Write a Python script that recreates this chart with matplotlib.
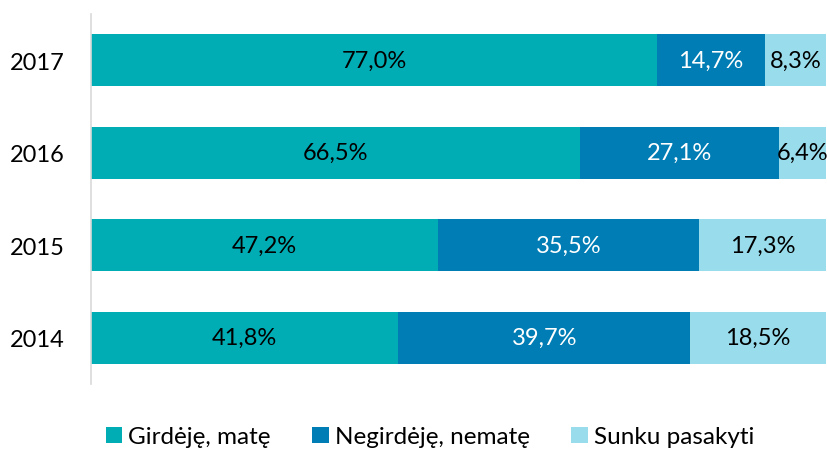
import numpy as np
import matplotlib
matplotlib.use('Agg')
import matplotlib.pyplot as plt

plt.rcParams['font.family'] = ['Lato', 'DejaVu Sans']

years = ['2014', '2015', '2016', '2017']
girdeje = [41.8, 47.2, 66.5, 77.0]
negirdeje = [39.7, 35.5, 27.1, 14.7]
sunku = [18.5, 17.3, 6.4, 8.3]
series = [girdeje, negirdeje, sunku]
names = ['Girdėję, matę', 'Negirdėję, nematę', 'Sunku pasakyti']
colors = ['#00ADB4', '#007DB4', '#99DDEC']
text_colors = ['black', 'white', 'black']

fig = plt.figure(figsize=(8.27, 4.52), dpi=100)
ax = fig.add_axes([0.110, 0.148, 0.889, 0.819])

y = np.arange(len(years))
left = np.zeros(len(years))
handles = []
for vals, name, col, tc in zip(series, names, colors, text_colors):
    vals = np.array(vals)
    b = ax.barh(y, vals, left=left, height=0.56, color=col, label=name)
    handles.append(b)
    for yi, l, v in zip(y, left, vals):
        ax.text(l + v / 2, yi, f'{v:.1f}%'.replace('.', ','), ha='center', va='center',
                color=tc, fontsize=17)
    left += vals

ax.set_xlim(0, 100)
ax.set_ylim(-0.5, 3.5)
ax.set_yticks(y)
ax.set_yticklabels(years, fontsize=17)
ax.set_xticks([])
ax.tick_params(axis='y', length=0, pad=19)
for s in ['top', 'right', 'bottom']:
    ax.spines[s].set_visible(False)
ax.spines['left'].set_color('#D9D9D9')
ax.spines['left'].set_linewidth(1.2)

fig.legend(handles=handles, labels=names, loc='center', bbox_to_anchor=(0.52, 0.031),
           ncol=3, frameon=False, fontsize=17.5, handlelength=0.68, handleheight=0.68,
           handletextpad=0.25, columnspacing=1.7, borderpad=0, borderaxespad=0)

fig.savefig('out.png', dpi=100)
